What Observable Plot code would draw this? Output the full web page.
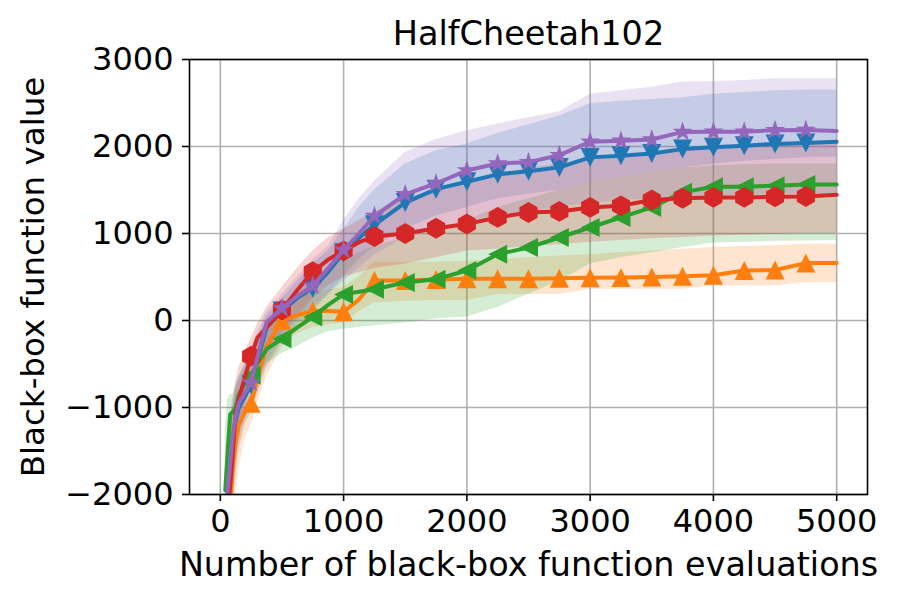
<!DOCTYPE html>
<html>
<head>
<meta charset="utf-8">
<script src="https://cdn.jsdelivr.net/npm/d3@7"></script>
<script src="https://cdn.jsdelivr.net/npm/@observablehq/plot@0.6"></script>
<style>
  html, body { margin: 0; padding: 0; background: #ffffff; }
  #chart svg { display: block; }
</style>
</head>
<body>
<div id="chart"></div>
<script>
// ---------- data ----------
const title = "HalfCheetah102";
const xLabel = "Number of black-box function evaluations";
const yLabel = "Black-box function value";
const xTicks = [0, 1000, 2000, 3000, 4000, 5000];
const yTicks = [-2000, -1000, 0, 1000, 2000, 3000];
const markerEvals = [250, 500, 750, 1000, 1250, 1500, 1750, 2000, 2250, 2500, 2750, 3000, 3250, 3500, 3750, 4000, 4250, 4500, 4750];

const evals = [40, 60, 80, 100, 125, 150, 200, 250, 300, 375, 500, 625, 750, 875, 1000, 1125, 1250, 1500, 1750, 2000, 2250, 2500, 2750, 3000, 3250, 3500, 3750, 4000, 4250, 4500, 4750, 5000];

const blueMed   = [-2700, -2100, -1750, -1400, -1150, -1000, -870, -740, -470, -80, 110, 260, 370, 560, 780, 950, 1100, 1355, 1510, 1595, 1680, 1715, 1760, 1875, 1895, 1920, 1970, 1990, 2010, 2030, 2040, 2055];
const blueLo    = [-3000, -2700, -2400, -2100, -1800, -1500, -1200, -1050, -850, -550, -250, -50, 100, 300, 500, 700, 850, 1050, 1200, 1300, 1400, 1450, 1500, 1600, 1650, 1700, 1750, 1800, 1830, 1850, 1870, 1880];
const blueHi    = [-1900, -1500, -1200, -1000, -800, -700, -550, -400, -200, 50, 250, 450, 650, 800, 1050, 1300, 1500, 1800, 1950, 2030, 2150, 2250, 2350, 2490, 2520, 2540, 2560, 2600, 2620, 2640, 2650, 2650];

const orangeMed = [-2800, -2500, -2100, -1700, -1400, -1200, -1050, -950, -680, -300, 0, 60, 110, 110, 100, 240, 460, 460, 470, 480, 480, 480, 485, 490, 495, 500, 510, 520, 575, 580, 660, 660];
const orangeLo  = [-3200, -2900, -2600, -2300, -2000, -1700, -1350, -1200, -950, -650, -300, -150, -80, -50, -30, 100, 200, 220, 230, 230, 300, 300, 300, 358, 358, 358, 358, 396, 396, 400, 435, 435];
const orangeHi  = [-2200, -1900, -1600, -1300, -1100, -950, -800, -700, -450, -150, 150, 250, 320, 350, 380, 500, 670, 670, 670, 680, 700, 720, 740, 760, 780, 800, 820, 838, 850, 860, 877, 877];

const greenMed  = [-1950, -1500, -1080, -1050, -1000, -850, -720, -630, -500, -330, -210, -80, 40, 180, 300, 330, 360, 437, 475, 575, 762, 838, 954, 1069, 1185, 1300, 1473, 1538, 1538, 1550, 1562, 1562];
const greenLo   = [-2800, -2400, -1900, -1700, -1500, -1200, -900, -800, -650, -500, -380, -300, -200, -130, -100, -80, -60, -30, 20, 40, 150, 300, 450, 650, 720, 780, 840, 890, 900, 910, 915, 920];
const greenHi   = [-1300, -900, -850, -850, -750, -650, -500, -400, -250, -50, 150, 320, 480, 600, 700, 780, 850, 950, 1050, 1150, 1300, 1400, 1500, 1600, 1650, 1700, 1750, 1780, 1790, 1800, 1800, 1800];

const redMed    = [-2600, -2200, -1900, -1550, -1050, -900, -650, -410, -200, -80, 120, 350, 560, 700, 800, 900, 965, 1000, 1060, 1110, 1185, 1242, 1254, 1300, 1318, 1385, 1405, 1415, 1415, 1423, 1425, 1445];
const redLo     = [-3200, -2900, -2600, -2300, -1600, -1300, -1000, -750, -550, -380, -150, 50, 250, 400, 500, 550, 600, 650, 720, 800, 820, 850, 870, 900, 920, 940, 955, 970, 980, 990, 1000, 1000];
const redHi     = [-2000, -1600, -1300, -1050, -700, -550, -350, -200, -50, 150, 380, 600, 800, 950, 1050, 1150, 1250, 1400, 1500, 1600, 1680, 1750, 1800, 1850, 1880, 1920, 1950, 1980, 2000, 2010, 2020, 2030];

const purpleMed = [-2600, -1940, -1635, -1330, -1100, -950, -830, -715, -430, -20, 140, 280, 400, 600, 810, 1000, 1200, 1450, 1575, 1725, 1805, 1820, 1900, 2055, 2065, 2080, 2168, 2170, 2170, 2188, 2190, 2178];
const purpleLo  = [-3000, -2600, -2300, -2000, -1700, -1400, -1150, -1000, -800, -500, -200, 0, 150, 300, 450, 600, 750, 950, 1050, 1150, 1200, 1250, 1300, 1350, 1380, 1400, 1420, 1430, 1440, 1450, 1450, 1450];
const purpleHi  = [-1800, -1400, -1100, -900, -750, -650, -500, -350, -150, 100, 300, 500, 700, 850, 1150, 1400, 1600, 1930, 2080, 2180, 2260, 2330, 2400, 2600, 2640, 2680, 2740, 2745, 2760, 2780, 2780, 2780];

// ---------- matplotlib-like marker shapes ----------
function polygon(ctx, pts) {
  ctx.moveTo(pts[0][0], pts[0][1]);
  for (let i = 1; i < pts.length; i++) ctx.lineTo(pts[i][0], pts[i][1]);
  ctx.closePath();
}
const rOf = size => Math.sqrt(size / Math.PI);
const triDown = { draw(ctx, size) { const r = rOf(size); polygon(ctx, [[0, r], [-r, -r], [r, -r]]); } };
const triUp   = { draw(ctx, size) { const r = rOf(size); polygon(ctx, [[0, -r], [-r, r], [r, r]]); } };
const triLeft = { draw(ctx, size) { const r = rOf(size); polygon(ctx, [[-r, 0], [r, -r], [r, r]]); } };
const hexagon = { draw(ctx, size) {
  const r = rOf(size) * 1.1, pts = [];
  for (let i = 0; i < 6; i++) { const a = (-90 + 60 * i) * Math.PI / 180; pts.push([r * Math.cos(a), r * Math.sin(a)]); }
  polygon(ctx, pts);
} };
const star = { draw(ctx, size) {
  const R = rOf(size) * 1.1, ri = R * 0.381966, pts = [];
  for (let i = 0; i < 10; i++) { const a = (-90 + 36 * i) * Math.PI / 180, rr = i % 2 ? ri : R; pts.push([rr * Math.cos(a), rr * Math.sin(a)]); }
  polygon(ctx, pts);
} };

const seriesDefs = [
  { key: "blue",   med: blueMed,   lo: blueLo,   hi: blueHi,   color: "#1f77b4", symbol: triDown },
  { key: "orange", med: orangeMed, lo: orangeLo, hi: orangeHi, color: "#ff7f0e", symbol: triUp },
  { key: "green",  med: greenMed,  lo: greenLo,  hi: greenHi,  color: "#2ca02c", symbol: triLeft },
  { key: "red",    med: redMed,    lo: redLo,    hi: redHi,    color: "#d62728", symbol: hexagon },
  { key: "purple", med: purpleMed, lo: purpleLo, hi: purpleHi, color: "#9467bd", symbol: star }
];

const tables = seriesDefs.map(s => evals.map((x, i) => ({ series: s.key, x, med: s.med[i], lo: s.lo[i], hi: s.hi[i] })));

const bandMarks = seriesDefs.map((s, k) =>
  Plot.areaY(tables[k], { x: "x", y1: "lo", y2: "hi", fill: s.color, fillOpacity: 0.2, clip: true }));

const lineMarks = seriesDefs.flatMap((s, k) => [
  Plot.lineY(tables[k], { x: "x", y: "med", stroke: s.color, strokeWidth: 4, strokeLinejoin: "round", clip: true }),
  Plot.dot(tables[k].filter(d => markerEvals.includes(d.x)), { x: "x", y: "med", symbol: s.symbol, r: 9.5, fill: s.color, stroke: "none", clip: true })
]);

const fmt = d3.format("d");

const chart = Plot.plot({
  width: 900,
  height: 600,
  marginLeft: 189,
  marginRight: 33,
  marginTop: 59,
  marginBottom: 106,
  style: { fontFamily: "'DejaVu Sans', sans-serif", fontSize: "32px", color: "black", background: "white", overflow: "visible" },
  x: { domain: [-250, 5250] },
  y: { domain: [-2000, 3000] },
  marks: [
    Plot.gridX({ ticks: xTicks, stroke: "#b0b0b0", strokeOpacity: 1, strokeWidth: 1.6 }),
    Plot.gridY({ ticks: yTicks, stroke: "#b0b0b0", strokeOpacity: 1, strokeWidth: 1.6 }),
    ...bandMarks,
    ...lineMarks,
    Plot.frame({ stroke: "black", strokeWidth: 1.6 }),
    Plot.axisX({ ticks: xTicks, tickFormat: fmt, tickSize: 7, tickPadding: 8, strokeWidth: 1.6, fontSize: 32, label: null }),
    Plot.axisY({ ticks: yTicks, tickFormat: fmt, tickSize: 7, tickPadding: 9, strokeWidth: 1.6, fontSize: 32, label: null }),
    Plot.text([title], { text: d => d, frameAnchor: "top", lineAnchor: "middle", textAnchor: "middle", dy: -25, fontSize: 33.5, fill: "black" }),
    Plot.text([xLabel], { text: d => d, frameAnchor: "bottom", lineAnchor: "middle", textAnchor: "middle", dy: 71, fontSize: 33.4, fill: "black" }),
    Plot.text([yLabel], { text: d => d, frameAnchor: "left", lineAnchor: "middle", textAnchor: "middle", dx: -156, dy: 0, rotate: -90, fontSize: 32.5, fill: "black" })
  ]
});

document.getElementById("chart").appendChild(chart);
</script>
</body>
</html>
